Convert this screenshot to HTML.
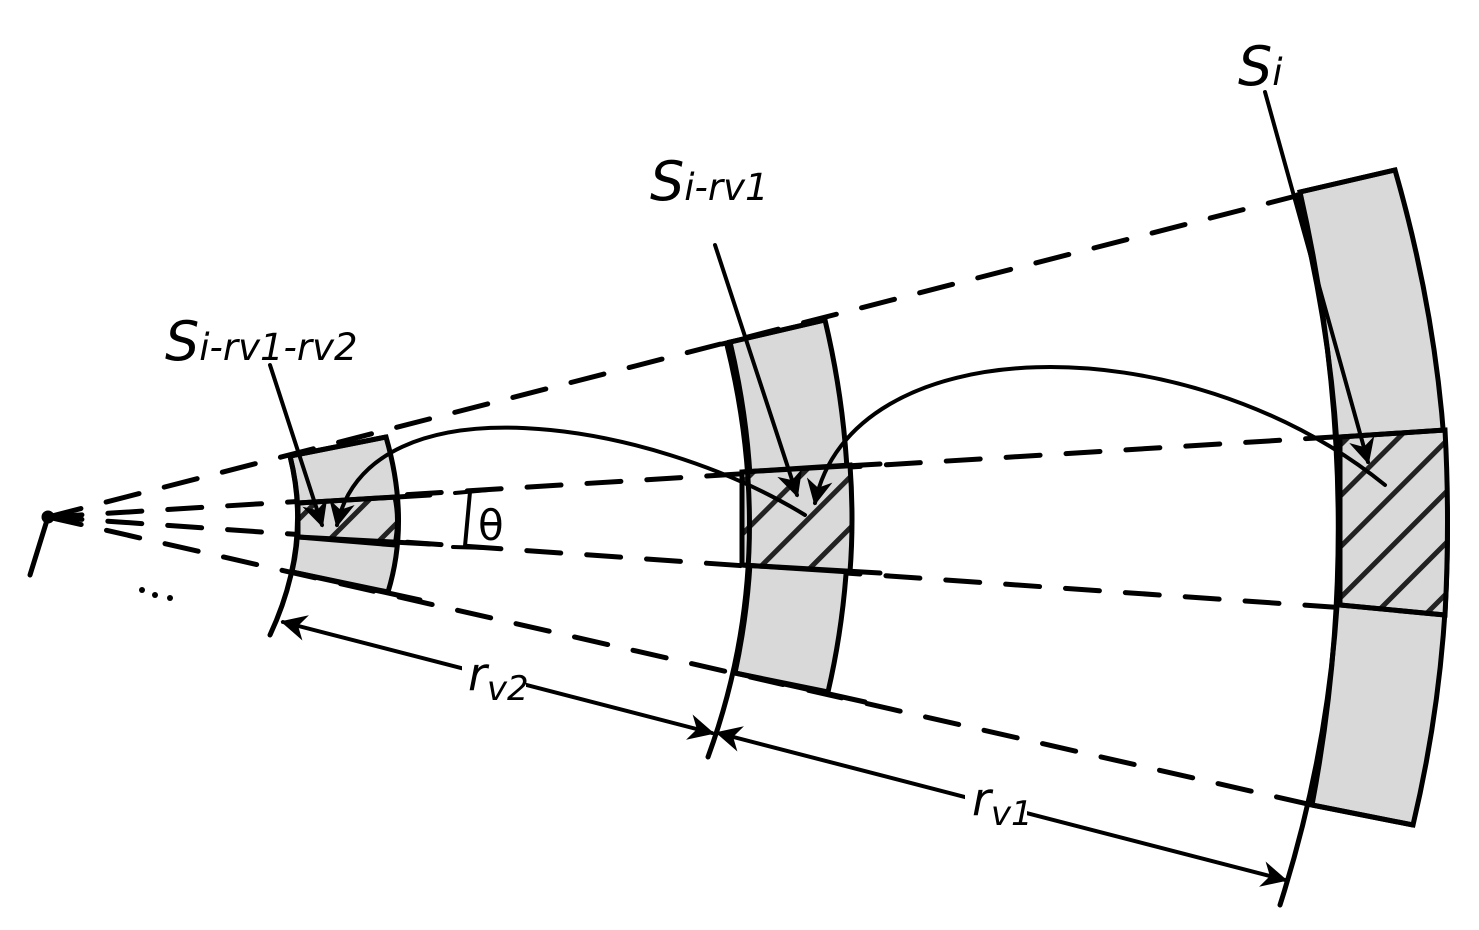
<!DOCTYPE html>
<html><head><style>body{margin:0;background:#fff}svg{display:block}text{font-family:"DejaVu Sans","Liberation Sans",sans-serif;font-style:italic}</style></head>
<body>
<svg width="1479" height="930" viewBox="0 0 1479 930" xmlns="http://www.w3.org/2000/svg">
<defs>
<pattern id="h" patternUnits="userSpaceOnUse" width="36" height="36" patternTransform="rotate(-45)">
<rect width="36" height="36" fill="#d9d9d9"/><rect x="0" y="0" width="36" height="5" fill="#222"/>
</pattern>
<marker id="b" viewBox="0 0 10 10" refX="9" refY="5" markerWidth="32" markerHeight="26" orient="auto" markerUnits="userSpaceOnUse"><path d="M0,0 L10,5 L0,10 L3,5 z" fill="#000"/></marker>
<marker id="bs" viewBox="0 0 10 10" refX="1" refY="5" markerWidth="32" markerHeight="26" orient="auto" markerUnits="userSpaceOnUse"><path d="M10,0 L0,5 L10,10 L7,5 z" fill="#000"/></marker>
</defs>
<g stroke="#000" stroke-width="5" fill="none" stroke-linecap="round">
<g stroke-dasharray="34 26">
<line x1="48" y1="517" x2="1300" y2="195"/>
<line x1="48" y1="517" x2="1445" y2="430"/>
<line x1="48" y1="517" x2="1445" y2="615"/>
<line x1="48" y1="517" x2="1312" y2="805"/>
</g>
<path d="M290,456 L386,437 Q410,520 388,592 L292,572 Q305,515 290,456 Z" fill="#d9d9d9"/>
<path d="M298,503 L395,497 Q400,520 395,545 L298,537 Z" fill="url(#h)"/>
<path d="M730,342 L825,320 Q870,510 828,692 L735,673 Q770,510 730,342 Z" fill="#d9d9d9"/>
<path d="M742,472 L850,465 Q854,520 850,572 L742,565 Z" fill="url(#h)"/>
<path d="M1300,192 L1395,170 Q1490,500 1413,825 L1312,805 Q1370,500 1300,192 Z" fill="#d9d9d9"/>
<path d="M1340,437 L1445,430 Q1450,520 1445,615 L1340,605 Z" fill="url(#h)"/>
<line x1="290" y1="456" x2="386" y2="437"/>
<line x1="298" y1="503" x2="430" y2="495"/>
<line x1="298" y1="537" x2="430" y2="544"/>
<line x1="292" y1="572" x2="420" y2="600"/>
<line x1="722" y1="344" x2="825" y2="320"/>
<line x1="742" y1="472" x2="880" y2="464"/>
<line x1="742" y1="565" x2="880" y2="573"/>
<line x1="735" y1="673" x2="865" y2="702"/>
<line x1="1300" y1="192" x2="1395" y2="170"/>
<line x1="1340" y1="437" x2="1445" y2="430"/>
<line x1="1340" y1="605" x2="1445" y2="615"/>
<line x1="1312" y1="805" x2="1413" y2="825"/>
<path d="M290,456 Q312,545 270,635"/>
<path d="M727,345 Q780,560 708,757"/>
<path d="M1297,195 Q1390,560 1280,905"/>
<circle cx="48" cy="517" r="4" fill="#000"/>
<line x1="48" y1="517" x2="30" y2="575"/>
<line x1="1265" y1="92" x2="1368" y2="462" stroke-width="4" marker-end="url(#b)"/>
<line x1="715" y1="245" x2="797" y2="495" stroke-width="4" marker-end="url(#b)"/>
<line x1="270" y1="365" x2="322" y2="525" stroke-width="4" marker-end="url(#b)"/>
<path d="M1385,485 C1180,320 850,330 815,503" stroke-width="4" marker-end="url(#b)"/>
<path d="M805,515 C650,420 370,375 337,525" stroke-width="4" marker-end="url(#b)"/>
<line x1="283" y1="622" x2="712" y2="733" stroke-width="4" marker-start="url(#bs)" marker-end="url(#b)"/>
<line x1="718" y1="733" x2="1285" y2="880" stroke-width="4" marker-start="url(#bs)" marker-end="url(#b)"/>
<line x1="455" y1="493" x2="488" y2="490" stroke-width="4"/>
<line x1="453" y1="547" x2="488" y2="548" stroke-width="4"/>
<line x1="470" y1="492" x2="465" y2="546" stroke-width="4"/>
</g>
<circle cx="142" cy="590" r="3"/><circle cx="155" cy="595" r="3"/><circle cx="170" cy="598" r="3"/>
<rect x="462" y="650" width="64" height="60" fill="#fff"/>
<rect x="965" y="785" width="62" height="60" fill="#fff"/>
<text x="478" y="540" font-size="42" style="font-style:normal" font-family="Liberation Serif">θ</text>
<text x="1238" y="85" font-size="54">S<tspan font-size="37">i</tspan></text>
<text x="650" y="200" font-size="54">S<tspan font-size="37">i-rv1</tspan></text>
<text x="165" y="360" font-size="54">S<tspan font-size="37">i-rv1-rv2</tspan></text>
<text x="468" y="690" font-size="46">r<tspan font-size="34" dy="10">v2</tspan></text>
<text x="972" y="815" font-size="46">r<tspan font-size="34" dy="10">v1</tspan></text>
</svg>
</body></html>
